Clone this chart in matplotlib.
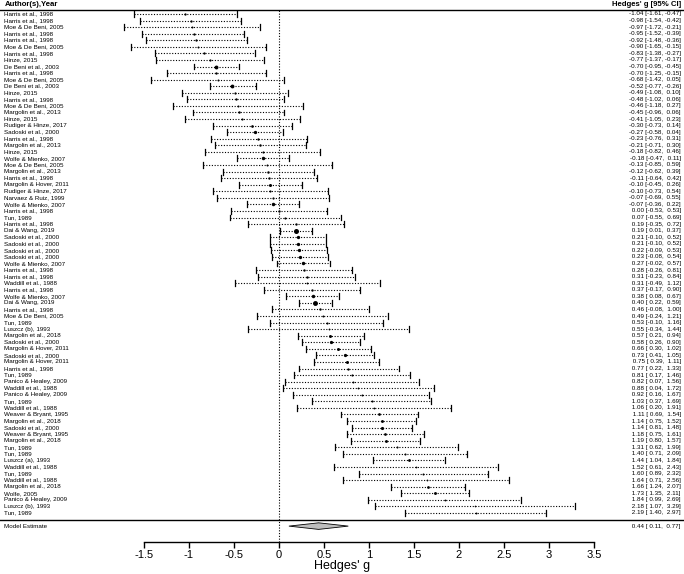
import matplotlib
matplotlib.use("Agg")
import matplotlib.pyplot as plt
import numpy as np

plt.rcParams['font.family'] = ['Liberation Sans', 'DejaVu Sans']

# study labels, effect sizes and confidence limits (top to bottom)
studies = [
    "Harris et al., 1998", "Harris et al., 1998", "Moe & De Beni, 2005", "Harris et al., 1998",
    "Harris et al., 1998", "Moe & De Beni, 2005", "Harris et al., 1998", "Hinze, 2015",
    "De Beni et al., 2003", "Harris et al., 1998", "Moe & De Beni, 2005", "De Beni et al., 2003",
    "Hinze, 2015", "Harris et al., 1998", "Moe & De Beni, 2005", "Margolin et al., 2013",
    "Hinze, 2015", "Rudiger & Hinze, 2017", "Sadoski et al., 2000", "Harris et al., 1998",
    "Margolin et al., 2013", "Hinze, 2015", "Wolfe & Mienko, 2007", "Moe & De Beni, 2005",
    "Margolin et al., 2013", "Harris et al., 1998", "Margolin & Hover, 2011", "Rudiger & Hinze, 2017",
    "Narvaez & Ruiz, 1999", "Wolfe & Mienko, 2007", "Harris et al., 1998", "Tun, 1989",
    "Harris et al., 1998", "Dai & Wang, 2019", "Sadoski et al., 2000", "Sadoski et al., 2000",
    "Sadoski et al., 2000", "Sadoski et al., 2000", "Wolfe & Mienko, 2007", "Harris et al., 1998",
    "Harris et al., 1998", "Waddill et al., 1988", "Harris et al., 1998", "Wolfe & Mienko, 2007",
    "Dai & Wang, 2019", "Harris et al., 1998", "Moe & De Beni, 2005", "Tun, 1989",
    "Luszcz (b), 1993", "Margolin et al., 2018", "Sadoski et al., 2000", "Margolin & Hover, 2011",
    "Sadoski et al., 2000", "Margolin & Hover, 2011", "Harris et al., 1998", "Tun, 1989",
    "Panico & Healey, 2009", "Waddill et al., 1988", "Panico & Healey, 2009", "Tun, 1989",
    "Waddill et al., 1988", "Weaver & Bryant, 1995", "Margolin et al., 2018", "Sadoski et al., 2000",
    "Weaver & Bryant, 1995", "Margolin et al., 2018", "Tun, 1989", "Tun, 1989",
    "Luszcz (a), 1993", "Waddill et al., 1988", "Tun, 1989", "Waddill et al., 1988",
    "Margolin et al., 2018", "Wolfe, 2005", "Panico & Healey, 2009", "Luszcz (b), 1993",
    "Tun, 1989",
]
g = [-1.04, -0.98, -0.97, -0.95, -0.92, -0.90, -0.83, -0.77, -0.70, -0.70, -0.68, -0.52,
     -0.49, -0.48, -0.46, -0.45, -0.41, -0.30, -0.27, -0.23, -0.21, -0.18, -0.18, -0.13,
     -0.12, -0.11, -0.10, -0.10, -0.07, -0.07, 0.00, 0.07, 0.19, 0.19, 0.21, 0.21,
     0.22, 0.23, 0.27, 0.28, 0.31, 0.31, 0.37, 0.38, 0.40, 0.46, 0.49, 0.53,
     0.55, 0.57, 0.58, 0.66, 0.73, 0.75, 0.77, 0.81, 0.82, 0.88, 0.92, 1.03,
     1.06, 1.11, 1.14, 1.14, 1.18, 1.19, 1.31, 1.40, 1.44, 1.52, 1.60, 1.64,
     1.66, 1.73, 1.84, 2.18, 2.19]
lower = [-1.61, -1.54, -1.72, -1.52, -1.48, -1.65, -1.38, -1.37, -0.95, -1.25, -1.42, -0.77,
         -1.08, -1.02, -1.18, -0.96, -1.05, -0.73, -0.58, -0.76, -0.71, -0.82, -0.47, -0.85,
         -0.62, -0.64, -0.45, -0.73, -0.69, -0.36, -0.53, -0.55, -0.35, 0.01, -0.10, -0.10,
         -0.09, -0.08, -0.02, -0.26, -0.23, -0.49, -0.17, 0.08, 0.22, -0.08, -0.24, -0.10,
         -0.34, 0.21, 0.26, 0.30, 0.41, 0.39, 0.22, 0.17, 0.07, 0.04, 0.16, 0.37,
         0.20, 0.69, 0.75, 0.81, 0.75, 0.80, 0.62, 0.71, 1.04, 0.61, 0.89, 0.71,
         1.24, 1.35, 0.99, 1.07, 1.40]
upper = [-0.47, -0.42, -0.21, -0.39, -0.36, -0.15, -0.27, -0.17, -0.45, -0.15, 0.05, -0.26,
         0.10, 0.06, 0.27, 0.06, 0.23, 0.14, 0.04, 0.31, 0.30, 0.46, 0.11, 0.59,
         0.39, 0.42, 0.26, 0.54, 0.55, 0.22, 0.53, 0.69, 0.72, 0.37, 0.52, 0.52,
         0.53, 0.54, 0.57, 0.81, 0.84, 1.12, 0.90, 0.67, 0.59, 1.00, 1.21, 1.16,
         1.44, 0.94, 0.90, 1.02, 1.05, 1.11, 1.33, 1.46, 1.56, 1.72, 1.67, 1.69,
         1.91, 1.54, 1.52, 1.48, 1.61, 1.57, 1.99, 2.09, 1.84, 2.43, 2.32, 2.56,
         2.07, 2.11, 2.69, 3.29, 2.97]

model_est = 0.44
model_ci = (0.11, 0.77)
xticks = [-1.5, -1, -0.5, 0, 0.5, 1, 1.5, 2, 2.5, 3, 3.5]
xticklabels = ["-1.5", "-1", "-0.5", "0", "0.5", "1", "1.5", "2", "2.5", "3", "3.5"]

g = np.array(g)
lower = np.array(lower)
upper = np.array(upper)
k = len(g)
rows = np.arange(k, 0, -1)

# point size like metafor: proportional to 1/se
se = (upper - lower) / (2 * 1.96)
w = 1 / se
w = w / w.sum()
psize = (w - w.min()) / (w.max() - w.min()) + 0.5

fig = plt.figure(figsize=(6.84, 5.74), dpi=100)
ax = fig.add_axes([0, 32 / 574, 1, 542 / 574])
ax.set_xlim(-3.1, 4.5)
ax.set_ylim(-3.42, 79.13)

# zero line
ax.plot([0, 0], [-3.42, 77.6], color='black', lw=0.8, ls=(0, (1, 1.5)))

for i in range(k):
    y = rows[i]
    ax.plot([lower[i], upper[i]], [y, y], color='black', lw=0.8, ls=(0, (1, 1.5)))
    ax.plot([lower[i], lower[i]], [y - 0.45, y + 0.45], color='black', lw=0.9)
    ax.plot([upper[i], upper[i]], [y - 0.45, y + 0.45], color='black', lw=0.9)
    ax.plot(g[i], y, marker='o', color='black', ms=2.4 * psize[i], mew=0)
    ax.text(-3.05, y, studies[i], ha='left', va='center', fontsize=4.5)
    ax.text(4.465, y, "%5.2f [%5.2f, %5.2f]" % (g[i], lower[i], upper[i]),
            ha='right', va='center', fontsize=4.5)

# summary diamond
ax.fill([model_ci[0], model_est, model_ci[1], model_est], [-1, -0.5, -1, -1.5],
        facecolor='#bebebe', edgecolor='black', lw=0.6)
ax.text(-3.05, -1, "Model Estimate", ha='left', va='center', fontsize=4.5)
ax.text(4.465, -1, "%5.2f [%5.2f, %5.2f]" % (model_est, model_ci[0], model_ci[1]),
        ha='right', va='center', fontsize=4.5)

# separators and headers
ax.axhline(77.6, color='black', lw=1)
ax.axhline(0, color='black', lw=1)
ax.text(-3.05, 78.5, "Author(s),Year", ha='left', va='center', fontsize=5.6, fontweight='bold')
ax.text(4.465, 78.5, "Hedges' g [95% CI]", ha='right', va='center', fontsize=5.6, fontweight='bold')

for s in ['top', 'left', 'right']:
    ax.spines[s].set_visible(False)
ax.spines['bottom'].set_bounds(-1.5, 3.5)
ax.spines['bottom'].set_linewidth(1.0)
ax.set_yticks([])
ax.set_xticks(xticks)
ax.set_xticklabels(xticklabels, fontsize=8)
ax.tick_params(axis='x', length=4, width=1.0, pad=1.5)
ax.set_xlabel("Hedges' g", fontsize=9, labelpad=0)

fig.savefig("out.png", dpi=100)
